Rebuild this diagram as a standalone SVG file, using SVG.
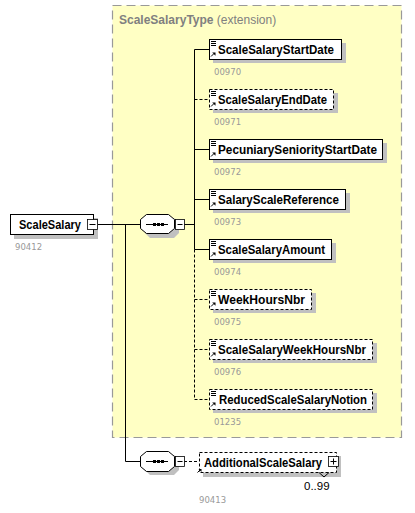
<svg xmlns="http://www.w3.org/2000/svg" width="415" height="513" viewBox="0 0 415 513">
<style>
.bg{fill:#ffffff}
.ext{fill:#ffffc4;stroke:#999999;stroke-width:1.2;stroke-dasharray:9,5}
.box{fill:#ffffff;stroke:#000000;stroke-width:1}
.opt{fill:#ffffff;stroke:#000000;stroke-width:1;stroke-dasharray:3,2}
.sh{fill:#c0c0c0}
.name{font-family:"Liberation Sans",Arial,sans-serif;font-weight:bold;font-size:12px;fill:#000}
.id{font-family:"DejaVu Sans","Liberation Sans",sans-serif;font-size:8.5px;fill:#999999}
.title{font-family:"Liberation Sans",Arial,sans-serif;font-size:12px;fill:#808080}
.ln{stroke:#000;stroke-width:1;fill:none}
.dl{stroke:#000;stroke-width:1;fill:none;stroke-dasharray:3,2}
.pm{fill:#fff;stroke:#000;stroke-width:0.8}
.ic{stroke:#000;stroke-width:1;fill:none}
</style>
<defs>
<g id="icon">
<path class="ic" d="M2,2.5h5M2,4.5h5M2,6.5h5"/>
<path d="M2,17.5 L5,14.5" class="ic"/>
<path d="M3.2,13.5 L6.5,13.5 L6.5,16.8 Z" fill="#000"/>
</g>
<g id="seqdots">
<path d="M6,10.5 H28" class="ln"/>
<rect x="13" y="9" width="3" height="3" fill="#000"/>
<rect x="17" y="9" width="3" height="3" fill="#000"/>
<rect x="21" y="9" width="3" height="3" fill="#000"/>
</g>
</defs>
<rect class="bg" x="0" y="0" width="415" height="513"/>
<g id="ScaleSalaryType">
<rect class="ext" x="112.5" y="5.5" width="289" height="432"/>
<text x="119" y="24" class="title"><tspan font-weight="bold">ScaleSalaryType</tspan> (extension)</text>
</g>
<g id="connectors">
<path class="ln" d="M98,224.5 H140"/>
<path class="ln" d="M125.5,224.5 V461.5 H140"/>
<path class="ln" d="M184,224.5 H194.5"/>
<path class="ln" d="M194.5,49.5 V249.5"/>
<path class="dl" d="M194.5,249.5 V399.5"/>
<path class="ln" d="M194.5,49.5 H209"/>
<path class="dl" d="M194.5,99.5 H209"/>
<path class="ln" d="M194.5,149.5 H209"/>
<path class="ln" d="M194.5,199.5 H209"/>
<path class="ln" d="M194.5,249.5 H209"/>
<path class="dl" d="M194.5,299.5 H209"/>
<path class="dl" d="M194.5,349.5 H209"/>
<path class="dl" d="M194.5,399.5 H209"/>
<path class="dl" d="M184,461.5 H199"/>
</g>
<g id="ScaleSalary">
<rect class="sh" x="14" y="218" width="84" height="21"/>
<rect class="box" x="10.5" y="214.5" width="83" height="20"/>
<text x="19" y="229" class="name" textLength="62" lengthAdjust="spacingAndGlyphs">ScaleSalary</text>
<rect class="pm" x="87.5" y="219.5" width="10" height="10"/>
<path class="ln" d="M89.5,224.5 H95.5"/>
<text x="15" y="250" class="id">90412</text>
</g>
<g id="seq1">
<path class="sh" d="M150,218 H174 L179,223 V233 L174,238 H150 L145,233 V223 Z"/>
<path fill="#fff" stroke="#000" d="M146.5,214.5 H168.5 L174.5,219.5 V228.5 L168.5,233.5 H146.5 L140.5,228.5 V219.5 Z"/>
<use href="#seqdots" x="140" y="214"/>
<rect class="pm" x="175.5" y="219.5" width="9" height="10"/>
<path class="ln" d="M177.5,224.5 H182.5"/>
</g>
<g id="e00970">
<rect class="sh" x="213" y="43" width="133" height="20"/>
<rect class="box" x="209.5" y="39.5" width="132" height="20"/>
<use href="#icon" x="209" y="39"/>
<text x="218" y="54" class="name" textLength="116" lengthAdjust="spacingAndGlyphs">ScaleSalaryStartDate</text>
<text x="214" y="75" class="id">00970</text>
</g>
<g id="e00971">
<rect class="sh" x="213" y="93" width="125" height="20"/>
<rect class="opt" x="209.5" y="89.5" width="124" height="20"/>
<use href="#icon" x="209" y="89"/>
<text x="218" y="104" class="name" textLength="109" lengthAdjust="spacingAndGlyphs">ScaleSalaryEndDate</text>
<text x="214" y="125" class="id">00971</text>
</g>
<g id="e00972">
<rect class="sh" x="213" y="143" width="174" height="20"/>
<rect class="box" x="209.5" y="139.5" width="173" height="20"/>
<use href="#icon" x="209" y="139"/>
<text x="218" y="154" class="name" textLength="159" lengthAdjust="spacingAndGlyphs">PecuniarySeniorityStartDate</text>
<text x="214" y="175" class="id">00972</text>
</g>
<g id="e00973">
<rect class="sh" x="213" y="193" width="137" height="20"/>
<rect class="box" x="209.5" y="189.5" width="136" height="20"/>
<use href="#icon" x="209" y="189"/>
<text x="218" y="204" class="name" textLength="121" lengthAdjust="spacingAndGlyphs">SalaryScaleReference</text>
<text x="214" y="225" class="id">00973</text>
</g>
<g id="e00974">
<rect class="sh" x="213" y="243" width="123" height="20"/>
<rect class="box" x="209.5" y="239.5" width="122" height="20"/>
<use href="#icon" x="209" y="239"/>
<text x="218" y="254" class="name" textLength="107" lengthAdjust="spacingAndGlyphs">ScaleSalaryAmount</text>
<text x="214" y="275" class="id">00974</text>
</g>
<g id="e00975">
<rect class="sh" x="213" y="293" width="103" height="20"/>
<rect class="opt" x="209.5" y="289.5" width="102" height="20"/>
<use href="#icon" x="209" y="289"/>
<text x="218" y="304" class="name" textLength="87" lengthAdjust="spacingAndGlyphs">WeekHoursNbr</text>
<text x="214" y="325" class="id">00975</text>
</g>
<g id="e00976">
<rect class="sh" x="213" y="343" width="164" height="20"/>
<rect class="opt" x="209.5" y="339.5" width="163" height="20"/>
<use href="#icon" x="209" y="339"/>
<text x="218" y="354" class="name" textLength="148" lengthAdjust="spacingAndGlyphs">ScaleSalaryWeekHoursNbr</text>
<text x="214" y="375" class="id">00976</text>
</g>
<g id="e01235">
<rect class="sh" x="213" y="393" width="164" height="20"/>
<rect class="opt" x="209.5" y="389.5" width="163" height="20"/>
<use href="#icon" x="209" y="389"/>
<text x="219" y="404" class="name" textLength="148" lengthAdjust="spacingAndGlyphs">ReducedScaleSalaryNotion</text>
<text x="214" y="425" class="id">01235</text>
</g>
<g id="seq2">
<path class="sh" d="M150,455 H174 L179,460 V470 L174,475 H150 L145,470 V460 Z"/>
<path fill="#fff" stroke="#000" d="M146.5,451.5 H168.5 L174.5,456.5 V466.5 L168.5,471.5 H146.5 L140.5,466.5 V456.5 Z"/>
<use href="#seqdots" x="140" y="451"/>
<rect class="pm" x="175.5" y="456.5" width="9" height="10"/>
<path class="ln" d="M177.5,461.5 H182.5"/>
</g>
<g id="AdditionalScaleSalary">
<rect class="sh" x="203" y="456" width="138" height="21"/>
<rect class="opt" x="199.5" y="452.5" width="137" height="20"/>
<path d="M197.5,472.5 L200,470" class="ic"/>
<path d="M198.5,469 L201.5,469 L201.5,472 Z" fill="#000"/>
<text x="204" y="467" class="name" textLength="118" lengthAdjust="spacingAndGlyphs">AdditionalScaleSalary</text>
<rect class="pm" x="328.5" y="456.5" width="10" height="10"/>
<path class="ln" d="M330.5,461.5 H336.5 M333.5,458.5 V464.5"/>
<path class="ln" d="M319,472.5 L324,477 L329,472.5"/>
<text x="304" y="490" class="title" style="fill:#000;font-size:11.5px">0..99</text>
<text x="199" y="503" class="id">90413</text>
</g>
</svg>
